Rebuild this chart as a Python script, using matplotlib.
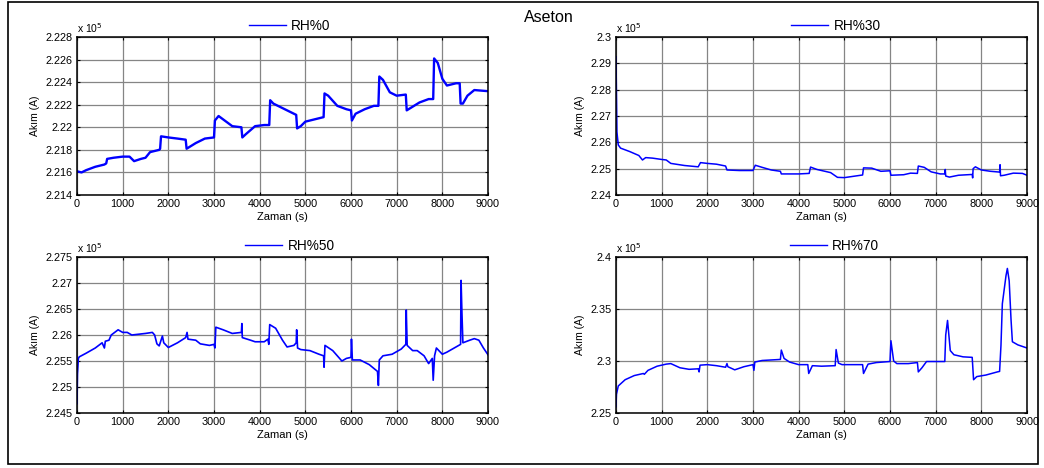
import matplotlib
matplotlib.use("Agg")
import matplotlib.pyplot as plt
from matplotlib.ticker import MultipleLocator, FuncFormatter
from matplotlib.patches import Rectangle

plt.rcParams['font.family'] = ['Liberation Sans', 'DejaVu Sans']

# Current (x 10^5 A) over time (s) for acetone exposure at four humidity levels
t_rh0 = [0, 100, 200, 400, 600, 640, 660, 800, 1000, 1150, 1250, 1400, 1500, 1600, 1800,
         1820, 1840, 2000, 2200, 2380, 2400, 2600, 2800, 3000, 3020, 3100, 3200, 3400,
         3600, 3620, 3700, 3900, 4100, 4210, 4230, 4300, 4500, 4700, 4800, 4820, 4900,
         5000, 5200, 5400, 5420, 5500, 5700, 5900, 6000, 6020, 6100, 6300, 6500, 6600,
         6620, 6700, 6850, 7000, 7200, 7220, 7300, 7500, 7700, 7800, 7820, 7900, 8000,
         8100, 8300, 8380, 8400, 8450, 8550, 8700, 9000]
rh0 = [2.2161, 2.2160, 2.2162, 2.2165, 2.2167, 2.2168, 2.2172, 2.2173, 2.2174, 2.2174,
       2.2170, 2.2172, 2.2173, 2.2178, 2.2180, 2.2181, 2.2192, 2.2191, 2.2190, 2.2189,
       2.2181, 2.2186, 2.2190, 2.2191, 2.2206, 2.2210, 2.2207, 2.2201, 2.2200, 2.2191,
       2.2194, 2.2201, 2.2202, 2.2202, 2.2224, 2.2221, 2.2217, 2.2213, 2.2211, 2.2199,
       2.2201, 2.2205, 2.2207, 2.2209, 2.2230, 2.2228, 2.2219, 2.2216, 2.2215, 2.2206,
       2.2212, 2.2216, 2.2219, 2.2219, 2.2245, 2.2242, 2.2231, 2.2228, 2.2229, 2.2215,
       2.2217, 2.2222, 2.2225, 2.2225, 2.2261, 2.2257, 2.2243, 2.2237, 2.2239, 2.2239,
       2.2221, 2.2221, 2.2228, 2.2233, 2.2232]

t_rh30 = [0, 20, 50, 100, 300, 500, 580, 650, 800, 1000, 1100, 1200, 1500, 1800, 1850,
          2000, 2200, 2400, 2430, 2700, 3000, 3050, 3200, 3400, 3600, 3620, 4000, 4230,
          4260, 4400, 4700, 4850, 5000, 5200, 5400, 5420, 5600, 5800, 6000, 6020, 6300,
          6450, 6600, 6620, 6750, 6900, 7100, 7200, 7210, 7220, 7300, 7500, 7800, 7810,
          7820, 7870, 8000, 8200, 8400, 8410, 8420, 8500, 8700, 8900, 9000]
rh30 = [2.2925, 2.2640, 2.2590, 2.2578, 2.2565, 2.2550, 2.2533, 2.2542, 2.2540, 2.2535,
        2.2533, 2.2520, 2.2512, 2.2507, 2.2523, 2.2520, 2.2517, 2.2510, 2.2495, 2.2493,
        2.2493, 2.2513, 2.2505, 2.2495, 2.2490, 2.2480, 2.2480, 2.2482, 2.2506, 2.2497,
        2.2485, 2.2467, 2.2466, 2.2471, 2.2476, 2.2503, 2.2502, 2.2490, 2.2492, 2.2475,
        2.2477, 2.2483, 2.2482, 2.2510, 2.2505, 2.2488, 2.2480, 2.2480, 2.2497, 2.2472,
        2.2468, 2.2475, 2.2478, 2.2465, 2.2500, 2.2507, 2.2495, 2.2490, 2.2487, 2.2515,
        2.2473, 2.2475, 2.2483, 2.2482, 2.2475]

t_rh50 = [0, 10, 30, 50, 200, 400, 550, 600, 620, 700, 750, 900, 1000, 1100, 1200, 1500,
          1650, 1700, 1750, 1800, 1870, 1900, 2000, 2200, 2380, 2410, 2430, 2600, 2700,
          2900, 3000, 3020, 3040, 3200, 3400, 3600, 3610, 3620, 3800, 3900, 4100, 4180,
          4200, 4220, 4350, 4500, 4600, 4750, 4800, 4810, 4830, 4900, 5100, 5300, 5400,
          5410, 5430, 5600, 5800, 5900, 6000, 6010, 6030, 6200, 6400, 6580, 6600, 6620,
          6700, 6900, 7100, 7200, 7210, 7230, 7350, 7450, 7600, 7700, 7780, 7800, 7830,
          7870, 8000, 8100, 8300, 8400, 8410, 8430, 8450, 8600, 8700, 8800, 8900, 9000]
rh50 = [2.2468, 2.2525, 2.2555, 2.2558, 2.2565, 2.2575, 2.2585, 2.2575, 2.2588, 2.2590,
        2.2600, 2.2610, 2.2605, 2.2605, 2.2600, 2.2603, 2.2605, 2.2600, 2.2583, 2.2579,
        2.2598, 2.2585, 2.2576, 2.2585, 2.2595, 2.2605, 2.2592, 2.2590, 2.2583, 2.2580,
        2.2582, 2.2575, 2.2615, 2.2610, 2.2603, 2.2605, 2.2622, 2.2595, 2.2590, 2.2587,
        2.2587, 2.2592, 2.2582, 2.2620, 2.2613, 2.2590, 2.2577, 2.2580, 2.2585, 2.2610,
        2.2575, 2.2572, 2.2570, 2.2563, 2.2560, 2.2538, 2.2580, 2.2570, 2.2550, 2.2555,
        2.2557, 2.2592, 2.2552, 2.2552, 2.2543, 2.2530, 2.2503, 2.2552, 2.2560, 2.2563,
        2.2573, 2.2582, 2.2648, 2.2580, 2.2570, 2.2570, 2.2560, 2.2545, 2.2555, 2.2513,
        2.2560, 2.2575, 2.2563, 2.2567, 2.2577, 2.2582, 2.2705, 2.2640, 2.2585, 2.2590,
        2.2593, 2.2590, 2.2575, 2.2562]

t_rh70 = [0, 10, 50, 200, 400, 600, 620, 700, 900, 1100, 1200, 1400, 1600, 1800, 1820,
          1840, 2000, 2200, 2400, 2430, 2450, 2600, 2800, 3000, 3020, 3040, 3200, 3600,
          3620, 3680, 3800, 4000, 4200, 4220, 4300, 4500, 4800, 4820, 4870, 4950, 5200,
          5400, 5420, 5520, 5700, 6000, 6020, 6080, 6150, 6400, 6600, 6620, 6700, 6800,
          7200, 7220, 7260, 7320, 7400, 7600, 7800, 7830, 7900, 8100, 8350, 8400, 8430,
          8460, 8540, 8570, 8610, 8650, 8680, 8800, 9000]
rh70 = [2.256, 2.268, 2.276, 2.282, 2.286, 2.288, 2.2872, 2.291, 2.295, 2.297, 2.2975,
        2.2935, 2.292, 2.2925, 2.2895, 2.296, 2.2965, 2.2955, 2.294, 2.2975, 2.2945,
        2.2915, 2.2945, 2.2965, 2.291, 2.299, 2.3005, 2.3015, 2.3105, 2.3025, 2.299,
        2.2965, 2.2965, 2.288, 2.2955, 2.295, 2.2955, 2.311, 2.298, 2.2965, 2.2965,
        2.2965, 2.288, 2.297, 2.2985, 2.2995, 2.3195, 2.300, 2.2975, 2.2975, 2.2985,
        2.2895, 2.2935, 2.2995, 2.2995, 2.325, 2.339, 2.310, 2.306, 2.304, 2.3035,
        2.282, 2.285, 2.2865, 2.2895, 2.290, 2.315, 2.355, 2.382, 2.389, 2.377, 2.340,
        2.3185, 2.3155, 2.3125]

labels = ["RH%0", "RH%30", "RH%50", "RH%70"]
series = [(t_rh0, rh0), (t_rh30, rh30), (t_rh50, rh50), (t_rh70, rh70)]
ylims = [(2.214, 2.228), (2.24, 2.30), (2.245, 2.275), (2.25, 2.40)]
ysteps = [0.002, 0.01, 0.005, 0.05]
line_widths = [1.7, 1.1, 1.2, 1.1]

W, H = 1044, 468
fig = plt.figure(figsize=(W / 100, H / 100), dpi=100)

# panel boxes in pixels: left, top, right, bottom
boxes = [(77, 37, 488, 195), (616, 37, 1027, 195),
         (77, 257, 488, 413), (616, 257, 1027, 413)]
legend_x = [0.518, 0.535, 0.518, 0.532]

# outer frame
fig.patches.append(Rectangle((8 / W, 1 - 464 / H), (1038 - 8) / W, (464 - 2) / H,
                             transform=fig.transFigure, fill=False,
                             edgecolor='black', linewidth=1.2))

fig.text(549 / W, 1 - 17 / H, "Aseton", ha='center', va='center', fontsize=11.5)

for i, (l, t, r, b) in enumerate(boxes):
    ax = fig.add_axes([l / W, 1 - b / H, (r - l) / W, (b - t) / H])
    x, y = series[i]
    ax.plot(x, y, color='#0000ff', linewidth=line_widths[i], label=labels[i])
    ax.set_xlim(0, 9000)
    ax.set_ylim(*ylims[i])
    ax.xaxis.set_major_locator(MultipleLocator(1000))
    ax.yaxis.set_major_locator(MultipleLocator(ysteps[i]))
    ax.yaxis.set_major_formatter(FuncFormatter(lambda v, p: "%g" % round(v, 4)))
    ax.grid(True, color='#858585', linewidth=0.9, linestyle='-')
    ax.set_axisbelow(True)
    ax.tick_params(direction='in', length=2.5, width=0.8, top=True, right=True,
                   labelsize=7.8, pad=3, colors='black')
    for s in ax.spines.values():
        s.set_linewidth(1.1)
    ax.set_xlabel("Zaman (s)", fontsize=8, labelpad=2)
    ax.set_ylabel("Akım (A)", fontsize=7.5, labelpad=4)
    ax.text(0.0, 1.01, r"x 10$^{5}$", transform=ax.transAxes, fontsize=7.5,
            ha='left', va='bottom')
    h = b - t
    leg = ax.legend(loc='center', bbox_to_anchor=(legend_x[i], 1 + 11 / h),
                    frameon=False, fontsize=9.8, handlelength=2.7,
                    handletextpad=0.4, borderpad=0, borderaxespad=0)
    for hl in leg.get_lines():
        hl.set_linewidth(1.0)

fig.savefig("out.png", dpi=100, facecolor='white')
